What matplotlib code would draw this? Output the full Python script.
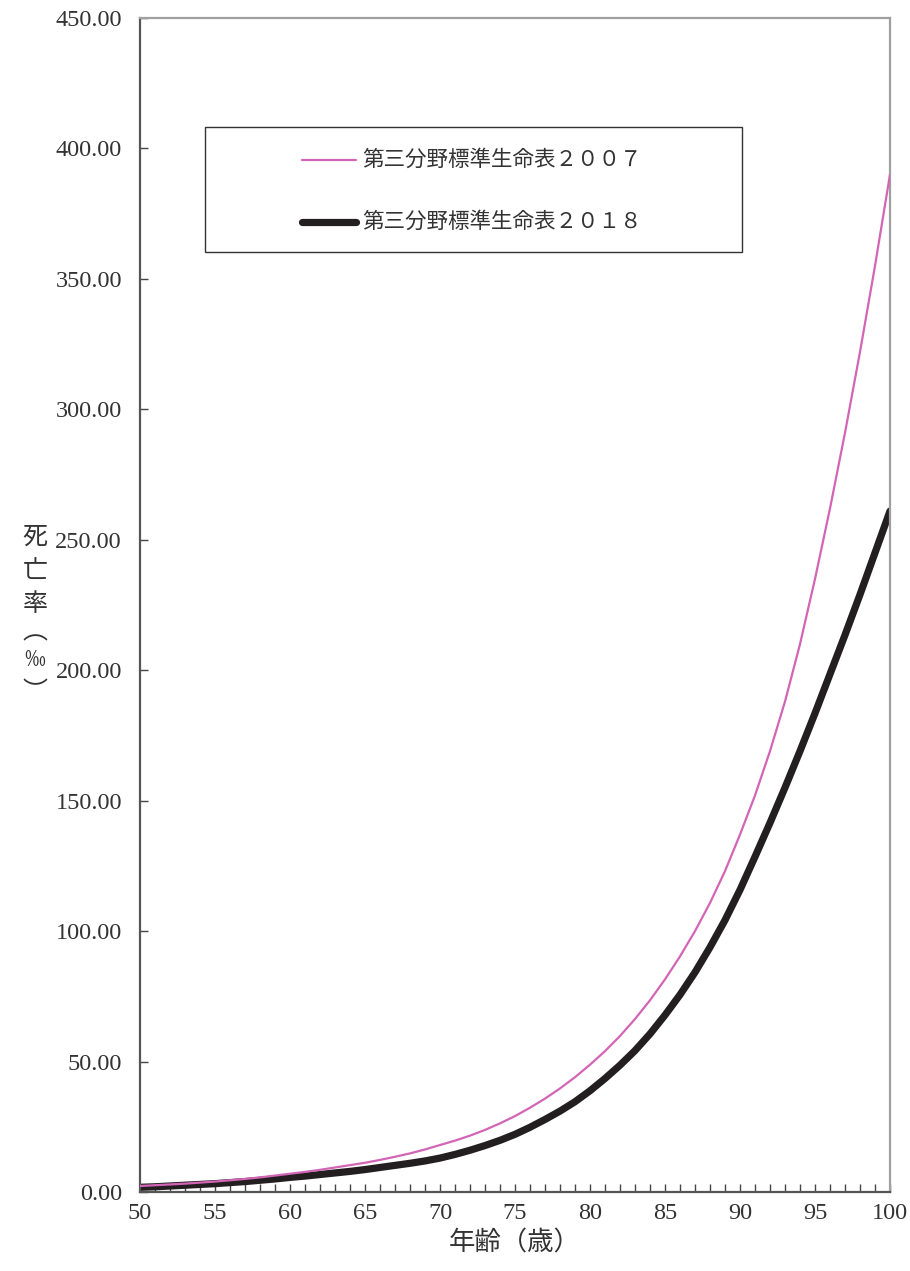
import numpy as np
import matplotlib.pyplot as plt
from matplotlib.patches import Rectangle
from matplotlib.ticker import MultipleLocator

# 年齢と死亡率（‰）
ages = list(range(50, 101))
rate_2007 = [2.3, 2.6, 2.9, 3.2, 3.6, 4.0, 4.5, 5.0, 5.6, 6.3,
             7.0, 7.7, 8.5, 9.4, 10.3, 11.2, 12.3, 13.5, 14.8, 16.3,
             18.0, 19.7, 21.6, 23.8, 26.3, 29.1, 32.3, 35.8, 39.7, 44.0,
             48.8, 54.0, 59.8, 66.3, 73.5, 81.5, 90.3, 100.0, 110.8, 123.0,
             137.0, 152.0, 169.0, 188.0, 210.0, 235.0, 262.0, 291.0, 322.0, 355.0,
             390.0]
rate_2018 = [1.8, 2.0, 2.3, 2.6, 2.9, 3.2, 3.6, 4.0, 4.5, 5.0,
             5.6, 6.1, 6.7, 7.3, 7.9, 8.6, 9.4, 10.2, 11.0, 11.9,
             13.0, 14.4, 16.0, 17.8, 19.8, 22.1, 24.8, 27.8, 31.0, 34.6,
             38.8, 43.5, 48.6, 54.2, 60.6, 67.8, 75.6, 84.2, 93.8, 104.2,
             115.8, 128.5, 141.5, 155.0, 169.0, 183.5, 198.5, 213.5, 229.0, 245.0,
             261.0]
labels = ['第三分野標準生命表２００７', '第三分野標準生命表２０１８']
colors = ['#D265B6', '#231F20']
widths = [1.6, 5.2]

jp = ['Noto Sans CJK JP', 'DejaVu Sans']
serif = ['Liberation Serif', 'DejaVu Serif']

fig = plt.figure(figsize=(9.10, 12.71), dpi=100)
ax = fig.add_axes([140/910, 79/1271, 750/910, 1174/1271])

ax.plot(ages, rate_2007, color=colors[0], lw=widths[0], zorder=3)
ax.plot(ages, rate_2018, color=colors[1], lw=widths[1], zorder=2,
        solid_capstyle='round')

ax.set_xlim(50, 100)
ax.set_ylim(0, 450)
ax.xaxis.set_major_locator(MultipleLocator(5))
ax.xaxis.set_minor_locator(MultipleLocator(1))
ax.yaxis.set_major_locator(MultipleLocator(50))

for side in ['left', 'bottom']:
    ax.spines[side].set_color('#555555')
    ax.spines[side].set_linewidth(1.6)
for side in ['top', 'right']:
    ax.spines[side].set_color('#a0a0a0')
    ax.spines[side].set_linewidth(1.6)

ax.tick_params(axis='both', which='both', direction='in', color='#444444',
               length=5.5, width=1.0)
ax.tick_params(axis='y', pad=13)
ax.tick_params(axis='x', pad=8)
ax.set_yticks(np.arange(0, 451, 50))
ax.set_yticklabels([f'{v:.2f}' for v in np.arange(0, 451, 50)])
for t in ax.get_yticklabels() + ax.get_xticklabels():
    t.set_family(serif)
    t.set_fontsize(17.5)
    t.set_color('#333333')

ax.set_xlabel('年齢（歳）', family=jp, fontsize=19, color='#333333', labelpad=4)

# 縦書きの軸ラベル
ylab_chars = ['死', '亡', '率', '︵', '‰', '︶']
ylab_y = [537, 571, 604, 632, 660, 692]
ylab_size = [18, 18, 18, 18, 15, 18]
for ch, yy, fs in zip(ylab_chars, ylab_y, ylab_size):
    fig.text(35/910, 1 - yy/1271, ch, family=jp, fontsize=fs, color='#333333',
             ha='center', va='center')

# 凡例
ax.add_patch(Rectangle((65/750, 940/1174), 537/750, 125/1174,
                       transform=ax.transAxes, fill=False, edgecolor='#333333',
                       lw=1.0, zorder=4))
leg_y = [(1192 - 160)/1174, (1192 - 222)/1174]
for lab, c, w, yy in zip(labels, colors, widths, leg_y):
    ax.plot([(302-140)/750, (356-140)/750], [yy, yy], transform=ax.transAxes,
            color=c, lw=w, solid_capstyle='round', zorder=5)
    ax.text((362-140)/750, yy, lab, transform=ax.transAxes, family=jp,
            fontsize=15.5, color='#333333', va='center', ha='left', zorder=5)

fig.savefig('out.png', dpi=100)
